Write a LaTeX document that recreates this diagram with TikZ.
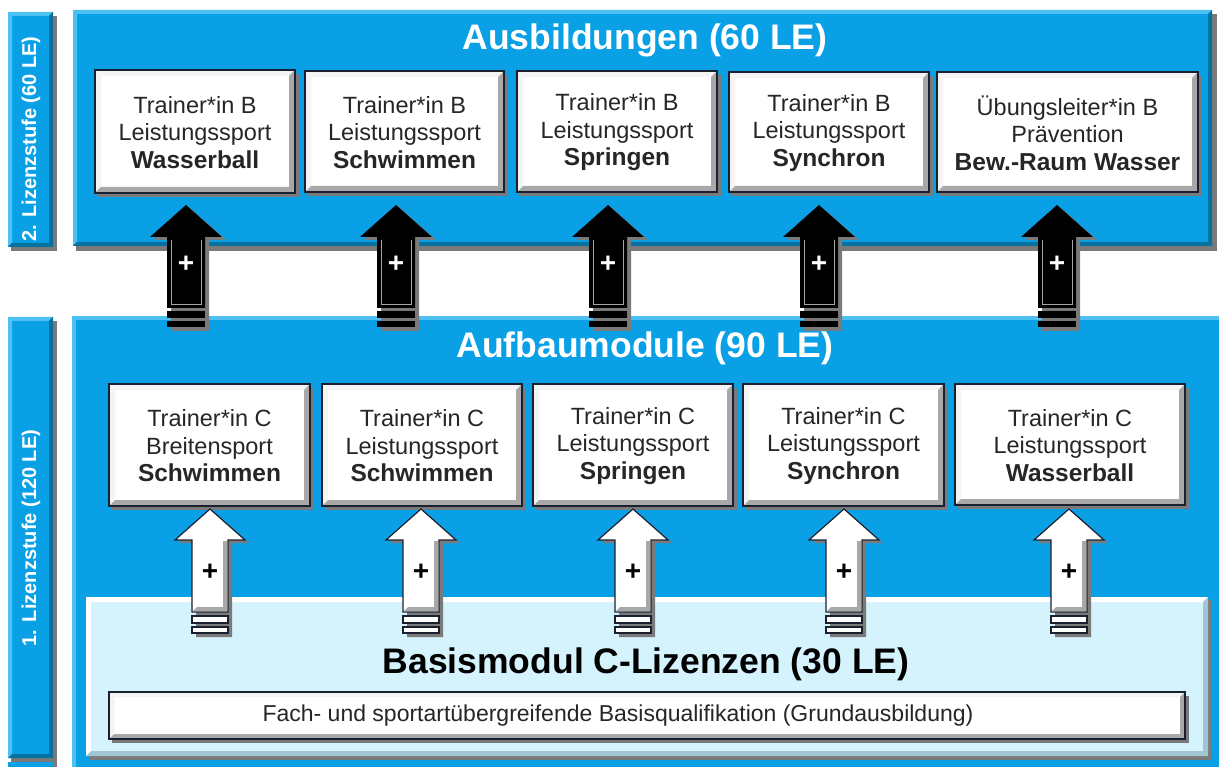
\documentclass[tikz,border=0pt]{standalone}
\usepackage{fontspec}
\setmainfont{Liberation Sans}
\usetikzlibrary{calc}
\definecolor{bblue}{HTML}{0AA0E6}
\definecolor{bbluedark}{HTML}{06729F}
\definecolor{bbluelight}{HTML}{4EC0F2}
\definecolor{lblue}{HTML}{D4F3FC}
\definecolor{lbluedark}{HTML}{9FC6D2}
\definecolor{shad}{HTML}{7A7A7A}
\definecolor{wdark}{HTML}{A8A8A8}
\definecolor{wlight}{HTML}{F4F4F4}
\definecolor{edge}{HTML}{1A2030}
\newcommand{\bev}[7]{% x1 y1 x2 y2 dark light size
  \fill[#6] (#1,#2) -- (#3,#2) -- (#3-#7,#2+#7) -- (#1+#7,#2+#7) -- (#1+#7,#4-#7) -- (#1,#4) -- cycle;
  \fill[#5] (#3,#2) -- (#3,#4) -- (#1,#4) -- (#1+#7,#4-#7) -- (#3-#7,#4-#7) -- (#3-#7,#2+#7) -- cycle;
}
\newcommand{\wbox}[6]{% name x1 y1 x2 y2 text
  \fill[shad] (#2+3,#3+4) rectangle (#4+4,#5+4);
  \node[wboxstyle, minimum width={(#4-#2)*1pt}, minimum height={(#5-#3)*1pt}] (#1) at ({(#2+#4)/2},{(#3+#5)/2}) {};
  \bev{#2}{#3}{#4}{#5}{wdark}{wlight}{6}
  \draw[edge, line width=1.5pt] (#1.north west) rectangle (#1.south east);
  \node[boxtext] at ($(#1.center)+(0,1)$) {#6};
}
\newcommand{\blackarrow}[2]{% name cx
  \begin{scope}[shift={(#2,0)}]
    \fill[shad] (4,208) -- (40,240) -- (23,240) -- (23,331) -- (-15,331) -- (-15,240) -- (-32,240) -- cycle;
    \fill[black] (0,205) -- (36,237) -- (19,237) -- (19,308) -- (-19,308) -- (-19,237) -- (-36,237) -- cycle;
    \draw[gray!70, line width=0.8pt] (-15,240) -- (-15,304) -- (15,304) -- (15,240);
    \fill[black] (-19,311) rectangle (19,318);
    \fill[black] (-19,321) rectangle (19,327);
    \coordinate (#1) at (0,205);
    \node[plus, text=white] at (0,264) {+};
  \end{scope}
}
\newcommand{\whitearrow}[2]{% name cx
  \begin{scope}[shift={(#2,0)}]
    \fill[shad] (4,512) -- (39,543) -- (22,543) -- (22,637) -- (-14,637) -- (-14,543) -- (-31,543) -- cycle;
    \filldraw[fill=white, draw=edge, line width=1.2pt] (0,509) -- (35,540) -- (18,540) -- (18,612) -- (-18,612) -- (-18,540) -- (-35,540) -- cycle;
    \fill[wdark] (13,541) -- (17,541) -- (17,611) -- (-17,611) -- (-13,607) -- (13,607) -- cycle;
    \filldraw[fill=white, draw=edge, line width=1.2pt] (-18,616) rectangle (18,623);
    \filldraw[fill=white, draw=edge, line width=1.2pt] (-18,627) rectangle (18,633);
    \coordinate (#1) at (0,509);
    \node[plus, text=black] at (0,572) {+};
  \end{scope}
}
\newcommand{\sportname}[1]{{\bfseries\fontsize{24.5}{27}\selectfont #1}}
\begin{document}
\begin{tikzpicture}[x=1pt, y=-1pt,
  wboxstyle/.style={fill=white, draw=none, inner sep=0pt, outer sep=0pt},
  boxtext/.style={align=center, text=black!85, font=\fontsize{23.5}{27.5}\selectfont},
  title/.style={text=white, font=\bfseries\fontsize{35.5}{38}\selectfont},
  sidelabel/.style={text=white, rotate=90, font=\bfseries\fontsize{20}{22}\selectfont},
  plus/.style={font=\bfseries\fontsize{28}{28}\selectfont, inner sep=0pt}]
\useasboundingbox (0,0) rectangle (1219,767);
\fill[white] (0,0) rectangle (1219,767);

% side labels
\fill[shad] (11,16) rectangle (57,251);
\fill[bblue] (8,12) rectangle (53,247);
\bev{8}{12}{53}{247}{bbluedark}{bbluelight}{4}
\node[sidelabel] (lz2) at (31,139) {2. Lizenzstufe (60 LE)};
\fill[shad] (11,321) rectangle (57,767);
\fill[bblue] (8,317) rectangle (53,758);
\bev{8}{317}{53}{758}{bbluedark}{bbluelight}{4}
\node[sidelabel] (lz1) at (31,538) {1. Lizenzstufe (120 LE)};
\fill[bblue] (8,762) rectangle (53,767);

% top big box
\fill[shad] (76,14) rectangle (1217,251);
\fill[bblue] (73,10) rectangle (1212,246);
\bev{73}{10}{1212}{246}{bbluedark}{bbluelight}{4}
\node[title] (ausb) at (645,40) {Ausbildungen (60 LE)};

% bottom big box
\fill[bblue] (72,316) rectangle (1219,767);
\fill[bbluelight] (72,316) rectangle (1219,320);
\fill[bbluelight] (72,316) rectangle (76,767);
\node[title] (aufb) at (645,348) {Aufbaumodule (90 LE)};

% light blue base box
\fill[shad] (89,600) rectangle (1212,760);
\fill[lblue] (86,597) rectangle (1208,756);
\bev{86}{597}{1208}{756}{lbluedark}{white}{5}
\node[font=\bfseries\fontsize{35.5}{38}\selectfont] (basis) at (646,664) {Basismodul C-Lizenzen (30 LE)};
\fill[shad] (112,696) rectangle (1189,743);
\fill[white] (109,692) rectangle (1185,739);
\bev{109}{692}{1185}{739}{wdark}{wlight}{5}
\draw[edge, line width=1.5pt] (109,692) rectangle (1185,739);
\node[text=black!85, font=\fontsize{23}{25}\selectfont] (grund) at (618,716) {Fach- und sportartübergreifende Basisqualifikation (Grundausbildung)};

% top boxes
\wbox{b1}{95}{70}{295}{193}{Trainer*in B\\Leistungssport\\\sportname{Wasserball}}
\wbox{b2}{305}{71}{504}{192}{Trainer*in B\\Leistungssport\\\sportname{Schwimmen}}
\wbox{b3}{517}{71}{717}{192}{Trainer*in B\\Leistungssport\\\sportname{Springen}}
\wbox{b4}{729}{72}{929}{192}{Trainer*in B\\Leistungssport\\\sportname{Synchron}}
\wbox{b5}{937}{72}{1198}{192}{Übungsleiter*in B\\Prävention\\\sportname{Bew.-Raum Wasser}}

% middle boxes
\wbox{c1}{109}{384}{310}{506}{Trainer*in C\\Breitensport\\\sportname{Schwimmen}}
\wbox{c2}{322}{384}{522}{506}{Trainer*in C\\Leistungssport\\\sportname{Schwimmen}}
\wbox{c3}{533}{384}{733}{506}{Trainer*in C\\Leistungssport\\\sportname{Springen}}
\wbox{c4}{743}{384}{944}{506}{Trainer*in C\\Leistungssport\\\sportname{Synchron}}
\wbox{c5}{955}{384}{1185}{505}{Trainer*in C\\Leistungssport\\\sportname{Wasserball}}

% arrows
\blackarrow{ba1}{186}
\blackarrow{ba2}{396}
\blackarrow{ba3}{608}
\blackarrow{ba4}{819}
\blackarrow{ba5}{1057}
\whitearrow{wa1}{210}
\whitearrow{wa2}{421}
\whitearrow{wa3}{633}
\whitearrow{wa4}{844}
\whitearrow{wa5}{1069}
\end{tikzpicture}
\end{document}
